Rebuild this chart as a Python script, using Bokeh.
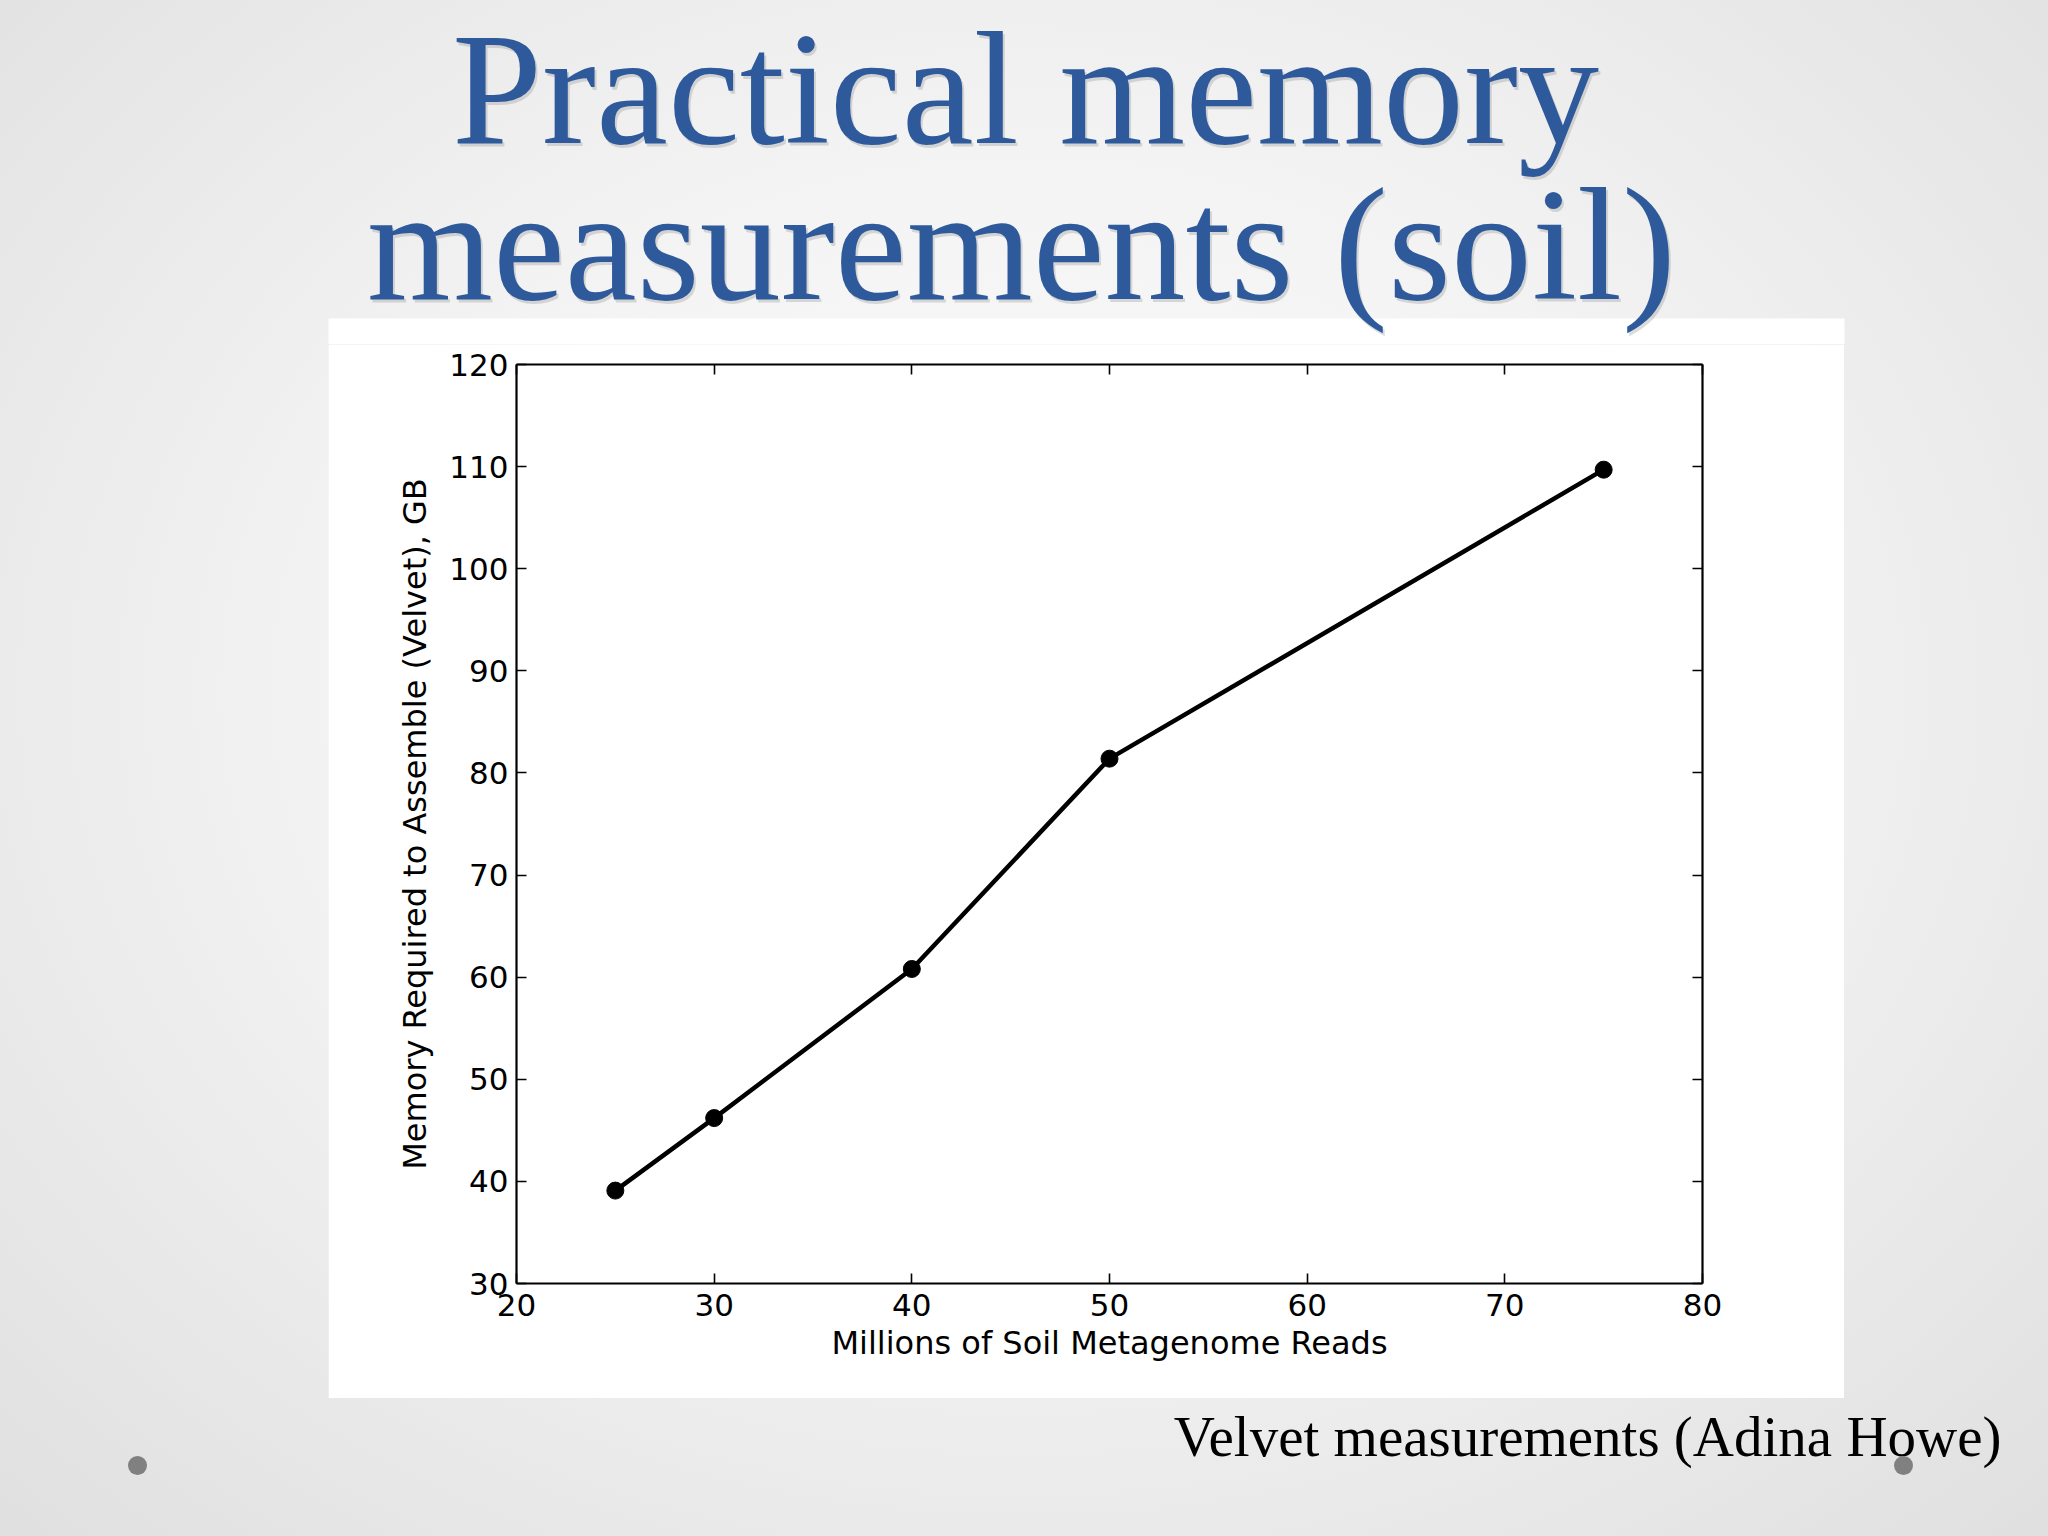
from bokeh.plotting import figure
from bokeh.models import (Range1d, LinearAxis, FixedTicker, CustomJSTickFormatter,
                          Spacer, Row, Column)
from bokeh.core.properties import value
from bokeh.embed import file_html
from bokeh.resources import INLINE

# ---------------- data ----------------
reads_millions = [25, 30, 40, 50, 75]
memory_gb = [39.1, 46.2, 60.8, 81.4, 109.7]
x_ticks = [20, 30, 40, 50, 60, 70, 80]
y_ticks = [30, 40, 50, 60, 70, 80, 90, 100, 110, 120]

title_lines = ["Practical memory", "measurements (soil)"]
caption = "Velvet measurements (Adina Howe)"
x_label = "Millions of Soil Metagenome Reads"
y_label = "Memory Required to Assemble (Velvet), GB"

# ---------------- page geometry (pixels) ----------------
PAGE_W, PAGE_H = 2048, 1536
BOX_L, BOX_R, BOX_T, BOX_B = 328, 1844, 318, 1398      # white chart panel
AX_L, AX_R, AX_T, AX_B = 516, 1702, 364, 1283          # axes frame
BAND = 344                                             # height of the title band

TITLE_BLUE = "#2E5A9C"
SERIF = "Liberation Serif"
SANS = "DejaVu Sans"
TITLE_SIZE = 162
CAPTION_SIZE = 57
BASE_SHIFT = 0.37   # baseline correction (fraction of font size)


def blank_fig(w, h, y_top, y_bottom):
    f = figure(width=w, height=h, output_backend="svg", toolbar_location=None,
               x_range=Range1d(0, w), y_range=Range1d(y_bottom, y_top),
               min_border=0, x_axis_location=None, y_axis_location=None)
    f.grid.visible = False
    f.outline_line_color = None
    f.background_fill_color = None
    f.border_fill_color = None
    return f


# ---------------- title band ----------------
top = blank_fig(PAGE_W, BAND, 0, BAND)
# top strip of the white chart panel
top.quad(left=[BOX_L], right=[BOX_R], top=[BOX_T], bottom=[BAND + 2],
         fill_color="white", line_color=None)
title_x = [1025, 1021]
title_base = [148 - BASE_SHIFT * TITLE_SIZE, 304 - BASE_SHIFT * TITLE_SIZE]
top.text(x=[v + 2 for v in title_x], y=[v + 3 for v in title_base], text=title_lines,
         text_align="center", text_baseline="alphabetic",
         text_font=value(SERIF), text_font_size=value(f"{TITLE_SIZE}px"),
         text_color="#8a8a8a", text_alpha=0.3)
top.text(x=title_x, y=title_base, text=title_lines,
         text_align="center", text_baseline="alphabetic",
         text_font=value(SERIF), text_font_size=value(f"{TITLE_SIZE}px"),
         text_color=TITLE_BLUE)

# ---------------- chart ----------------
p = figure(width=BOX_R - BOX_L, height=BOX_B - BAND, output_backend="svg",
           toolbar_location=None,
           x_range=Range1d(x_ticks[0], x_ticks[-1]), y_range=Range1d(y_ticks[0], y_ticks[-1]),
           min_border_left=AX_L - BOX_L, min_border_right=BOX_R - AX_R,
           min_border_top=AX_T - BAND, min_border_bottom=BOX_B - AX_B,
           x_axis_location=None, y_axis_location=None)
p.grid.visible = False
p.outline_line_color = None
p.background_fill_color = "white"
p.border_fill_color = "white"


def style_axis(ax, ticks, show_labels):
    ax.ticker = FixedTicker(ticks=ticks)
    ax.axis_line_width = 2.2
    ax.axis_line_color = "black"
    ax.major_tick_in = 10
    ax.major_tick_out = 0
    ax.major_tick_line_width = 1.6
    ax.major_tick_line_color = "black"
    ax.minor_tick_line_color = None
    ax.major_label_text_font = SANS
    ax.major_label_text_font_size = "31px"
    ax.major_label_text_color = "black"
    ax.axis_label_text_font = SANS
    ax.axis_label_text_font_size = "32px"
    ax.axis_label_text_font_style = "normal"
    ax.axis_label_text_color = "black"
    if not show_labels:
        ax.formatter = CustomJSTickFormatter(code="return ''")
        ax.major_label_text_font_size = "0px"
        ax.major_label_standoff = 0


xb = LinearAxis(axis_label=x_label)
style_axis(xb, x_ticks, True)
xb.major_label_standoff = 10
xb.axis_label_standoff = 5
p.add_layout(xb, "below")

yl = LinearAxis(axis_label=y_label)
style_axis(yl, y_ticks, True)
yl.major_label_standoff = 8
yl.axis_label_standoff = 12
p.add_layout(yl, "left")

xt = LinearAxis()
style_axis(xt, x_ticks, False)
p.add_layout(xt, "above")

yr = LinearAxis()
style_axis(yr, y_ticks, False)
p.add_layout(yr, "right")

p.line(reads_millions, memory_gb, line_color="black", line_width=4.5)
p.scatter(reads_millions, memory_gb, size=17, fill_color="black", line_color="black")

middle = Row(children=[Spacer(width=BOX_L, height=BOX_B - BAND), p,
                       Spacer(width=PAGE_W - BOX_R, height=BOX_B - BAND)], spacing=0)

# ---------------- caption band ----------------
bottom = blank_fig(PAGE_W, PAGE_H - BOX_B, BOX_B, PAGE_H)
bottom.text(x=[2001], y=[1457 - BASE_SHIFT * CAPTION_SIZE], text=[caption],
            text_align="right", text_baseline="alphabetic", text_font=value(SERIF),
            text_font_size=value(f"{CAPTION_SIZE}px"), text_color="black")
bottom.scatter(x=[137, 1903], y=[1465, 1465], size=19, fill_color="#808080",
               line_color=None)

page = Column(children=[top, middle, bottom], spacing=0,
              styles={"background": "radial-gradient(ellipse 75% 80% at 50% 45%, "
                                    "#fcfcfc 0%, #f3f3f3 45%, #dedede 100%)"})

open("out.html", "w").write(file_html(page, INLINE))
